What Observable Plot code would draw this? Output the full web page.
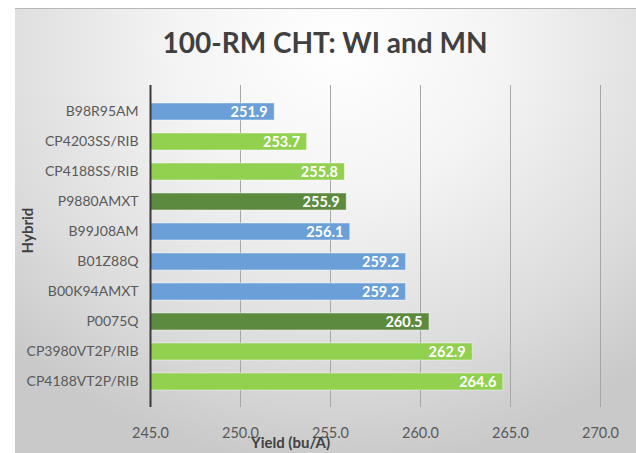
<!DOCTYPE html>
<html>
<head>
<meta charset="utf-8">
<script src="https://cdn.jsdelivr.net/npm/d3@7"></script>
<script src="https://cdn.jsdelivr.net/npm/@observablehq/plot@0.6"></script>
<style>
  html, body { margin: 0; padding: 0; background: #ffffff; }
  #wrap { position: relative; width: 636px; height: 453px; overflow: hidden; }
  #bg { position: absolute; left: 15px; top: 8px; width: 621px; height: 445px;
        border-top: 1px solid #b8b8b8;
        background: radial-gradient(ellipse 75% 95% at 52% 8%, #ffffff 0%, #f4f4f4 35%, #dcdcdc 75%, #c9c9c9 100%); }
  #title { position: absolute; left: 0; top: 25px; width: 650px; text-align: center;
           font-family: Lato, "Open Sans", sans-serif; font-size: 28px; font-weight: 700; color: #404040; }
  #chart { position: absolute; left: 0; top: 0; }
</style>
</head>
<body>
<div id="wrap">
  <div id="bg"></div>
  <div id="title">100-RM CHT: WI and MN</div>
  <div id="chart"></div>
</div>
<script>
const hybrids = ["B98R95AM", "CP4203SS/RIB", "CP4188SS/RIB", "P9880AMXT", "B99J08AM", "B01Z88Q", "B00K94AMXT", "P0075Q", "CP3980VT2P/RIB", "CP4188VT2P/RIB"];
const yields = [251.9, 253.7, 255.8, 255.9, 256.1, 259.2, 259.2, 260.5, 262.9, 264.6];
const groups = ["B", "CP", "CP", "P", "B", "B", "B", "P", "CP", "CP"];
const groupNames = ["B", "CP", "P"];
const groupColors = ["#6a9fd8", "#92d050", "#5c8a3e"];
const xTicks = [245, 250, 255, 260, 265, 270];

const data = hybrids.map((h, i) => ({hybrid: h, yield: yields[i], group: groups[i]}));
const font = "Lato, 'Open Sans', sans-serif";

const chart = Plot.plot({
  width: 636,
  height: 453,
  marginLeft: 150,
  marginRight: 36,
  marginTop: 85,
  marginBottom: 46,
  style: {background: "transparent", fontFamily: font, fontSize: "14px", color: "#595959"},
  x: {domain: [245, 270], ticks: xTicks, tickFormat: d => d.toFixed(1), label: null},
  y: {domain: hybrids, padding: 0.44, label: null},
  color: {domain: groupNames, range: groupColors},
  marks: [
    Plot.ruleX(xTicks.slice(1), {stroke: "#a6a6a6", strokeWidth: 1}),
    Plot.barX(data, {y: "hybrid", x1: 245, x2: "yield", fill: "group", stroke: "#ffffff", strokeOpacity: 0.45, strokeWidth: 1}),
    Plot.ruleX([245], {stroke: "#3a3a3a", strokeWidth: 2}),
    Plot.text(data, {y: "hybrid", x: "yield", text: d => d.yield.toFixed(1), textAnchor: "end", dx: -7,
      fill: "white", fontWeight: "bold", fontSize: 14.5, fontFamily: font}),
    Plot.axisX({ticks: xTicks, tickFormat: d => d.toFixed(1), tickSize: 0, tickPadding: 20, fontSize: 14.5, fill: "#595959", label: null}),
    Plot.axisY({tickSize: 0, tickPadding: 12, fontSize: 14, fill: "#595959", label: null}),
    Plot.text(["Yield (bu/A)"], {frameAnchor: "bottom-left", textAnchor: "middle", dx: 140, dy: 40, text: d => d, fontWeight: "bold", fontSize: 15, fill: "#404040", fontFamily: font}),
    Plot.text(["Hybrid"], {frameAnchor: "left", textAnchor: "middle", dx: -122, dy: -16, rotate: -90, text: d => d, fontWeight: "bold", fontSize: 15, fill: "#404040", fontFamily: font})
  ]
});
document.getElementById("chart").appendChild(chart);
</script>
</body>
</html>
